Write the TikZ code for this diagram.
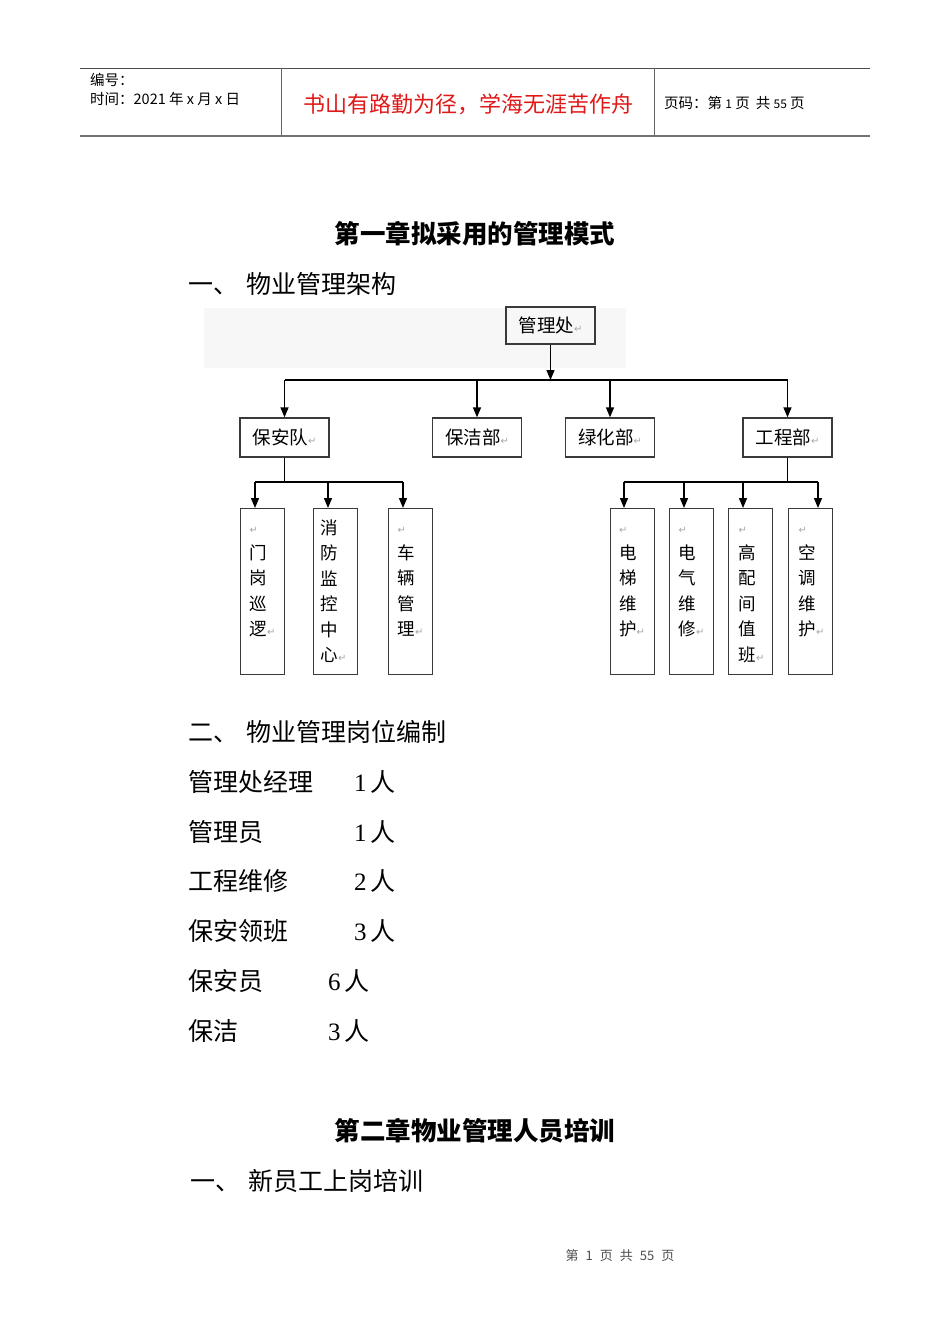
\documentclass[tikz,border=0pt]{standalone}
\usepackage{fontspec}
\usepackage{tikz}
\usepackage{xcolor}
\usetikzlibrary{arrows.meta,calc}
\setmainfont{Noto Sans CJK SC}
\newfontfamily\symfont{DejaVu Sans}
\newfontfamily\numfont{Liberation Serif}
\definecolor{boxgray}{HTML}{3A3A3A}
\definecolor{mottored}{HTML}{E01818}
\newcommand{\pmark}{{\symfont\fontsize{10}{10}\selectfont\color{black!35}↵}}
\newcommand{\colstrut}{\rule{0pt}{14pt}}

\begin{document}
\begin{tikzpicture}[x=1pt,y=-1pt]
    \tikzstyle{every node}=[inner sep=0pt]
    \tikzstyle{unit}=[draw=boxgray, line width=1.3pt, minimum width=89pt, minimum height=39pt, font=\fontsize{18.5}{18.5}\selectfont]
    \tikzstyle{col}=[draw=boxgray, line width=1.3pt, minimum width=44pt, minimum height=166pt, anchor=north west]
    \tikzstyle{coltext}=[anchor=north west, align=left, font=\fontsize{17.5}{25.5}\selectfont]
    \tikzstyle{arr}=[line width=1.4pt, -{Triangle[length=10pt,width=8pt]}]
    \tikzstyle{link}=[line width=1.4pt]
    \tikzstyle{body}=[anchor=west, font=\fontsize{25}{25}\selectfont]
    \tikzstyle{head}=[font=\bfseries\fontsize{25.5}{25.5}\selectfont]
    \tikzstyle{small}=[anchor=west, font=\fontsize{14.5}{14.5}\selectfont]

    \useasboundingbox (0,0) rectangle (950,1344);

    % Page header
    \draw[line width=0.8pt, black!70] (80,68) -- (870,68);
    \draw[line width=2pt, black!55] (80,136) -- (870,136);
    \draw[line width=0.6pt, black!60] (281,68) -- (281,136);
    \draw[line width=0.6pt, black!60] (654,68) -- (654,136);
    \node[small] (serial) at (90,80) {编号：};
    \node[small] (date) at (90,99) {时间：2021 年 x 月 x 日};
    \node[font=\fontsize{22}{22}\selectfont, text=mottored] (motto) at (468,104) {书山有路勤为径，学海无涯苦作舟};
    \node[small] (pageno) at (664,103) {页码：第 {\fontsize{12}{12}\selectfont 1} 页\hspace{6pt}共 {\fontsize{12}{12}\selectfont 55} 页};

    % Chapter one
    \node[head] (title1) at (475,234) {第一章拟采用的管理模式};
    \node[body] (sec1) at (188,284) {一、\hspace{8pt}物业管理架构};

    % Org chart
    \fill[black!3] (204,308) rectangle (626,368);
    \node[unit, minimum height=37pt] (office) at (550.5,325.5) {管理处\pmark};

    \node[unit] (security) at (284.5,437.5) {保安队\pmark};
    \node[unit] (cleaning) at (477,437.5) {保洁部\pmark};
    \node[unit] (green) at (610,437.5) {绿化部\pmark};
    \node[unit] (engineering) at (787.5,437.5) {工程部\pmark};

    \coordinate (top) at (550.5,380);
    \coordinate (busL) at (284.5,380);
    \coordinate (busR) at (787.5,380);

    \draw[arr] (office) -- (top);
    \draw[link] (busL) -- (busR);
    \draw[arr] (busL) -- (security);
    \draw[arr] (cleaning |- top) -- (cleaning);
    \draw[arr] (green |- top) -- (green);
    \draw[arr] (busR) -- (engineering);

    % Security teams
    \node[col] (gate) at (240,508) {};
    \node[col] (fire) at (313,508) {};
    \node[col] (car) at (388,508) {};
    \node[coltext] (gatetext) at ($(gate.north west)+(9.5,11.5)$) {\colstrut\pmark\\门\\岗\\巡\\逻\pmark};
    \node[coltext] (firetext) at ($(fire.north west)+(7.5,11.5)$) {\colstrut 消\\防\\监\\控\\中\\心\pmark};
    \node[coltext] (cartext) at ($(car.north west)+(9.5,11.5)$) {\colstrut\pmark\\车\\辆\\管\\理\pmark};

    \coordinate (secL) at (255,482);
    \coordinate (secM) at (328,482);
    \coordinate (secR) at (403,482);
    \draw[link] (security) -- (security |- secL);
    \draw[link] (secL) -- (secR);
    \draw[arr] (secL) -- (secL |- gate.north);
    \draw[arr] (secM) -- (secM |- fire.north);
    \draw[arr] (secR) -- (secR |- car.north);

    % Engineering teams
    \node[col] (lift) at (610,508) {};
    \node[col] (power) at (669,508) {};
    \node[col] (hv) at (728,508) {};
    \node[col] (aircon) at (788,508) {};
    \node[coltext] (lifttext) at ($(lift.north west)+(9,11.5)$) {\colstrut\pmark\\电\\梯\\维\\护\pmark};
    \node[coltext] (powertext) at ($(power.north west)+(9.5,11.5)$) {\colstrut\pmark\\电\\气\\维\\修\pmark};
    \node[coltext] (hvtext) at ($(hv.north west)+(10.5,11.5)$) {\colstrut\pmark\\高\\配\\间\\值\\班\pmark};
    \node[coltext] (aircontext) at ($(aircon.north west)+(10.5,11.5)$) {\colstrut\pmark\\空\\调\\维\\护\pmark};

    \coordinate (engL) at (624,482);
    \coordinate (engA) at (684,482);
    \coordinate (engB) at (743,482);
    \coordinate (engR) at (818,482);
    \draw[link] (engineering) -- (engineering |- engL);
    \draw[link] (engL) -- (engR);
    \draw[arr] (engL) -- (engL |- lift.north);
    \draw[arr] (engA) -- (engA |- power.north);
    \draw[arr] (engB) -- (engB |- hv.north);
    \draw[arr] (engR) -- (engR |- aircon.north);

    % Staffing list
    \node[body] (sec2) at (188,732) {二、\hspace{8pt}物业管理岗位编制};
    \node[body] (role1) at (188,782) {管理处经理};
    \node[body] (num1) at (354,782) {{\numfont 1}\hspace{4pt}人};
    \node[body] (role2) at (188,832) {管理员};
    \node[body] (num2) at (354,832) {{\numfont 1}\hspace{4pt}人};
    \node[body] (role3) at (188,881) {工程维修};
    \node[body] (num3) at (354,881) {{\numfont 2}\hspace{4pt}人};
    \node[body] (role4) at (188,931) {保安领班};
    \node[body] (num4) at (354,931) {{\numfont 3}\hspace{4pt}人};
    \node[body] (role5) at (188,981) {保安员};
    \node[body] (num5) at (328,981) {{\numfont 6}\hspace{4pt}人};
    \node[body] (role6) at (188,1031) {保洁};
    \node[body] (num6) at (328,1031) {{\numfont 3}\hspace{4pt}人};

    % Chapter two
    \node[head] (title2) at (475,1131) {第二章物业管理人员培训};
    \node[body] (sec3) at (190,1181) {一、\hspace{8pt}新员工上岗培训};

    % Footer
    \node[font=\fontsize{13}{13}\selectfont, text=black!70] (footer) at (620,1256) {第\hspace{7pt}1\hspace{7pt}页\hspace{7pt}共\hspace{7pt}55\hspace{7pt}页};
\end{tikzpicture}
\end{document}
